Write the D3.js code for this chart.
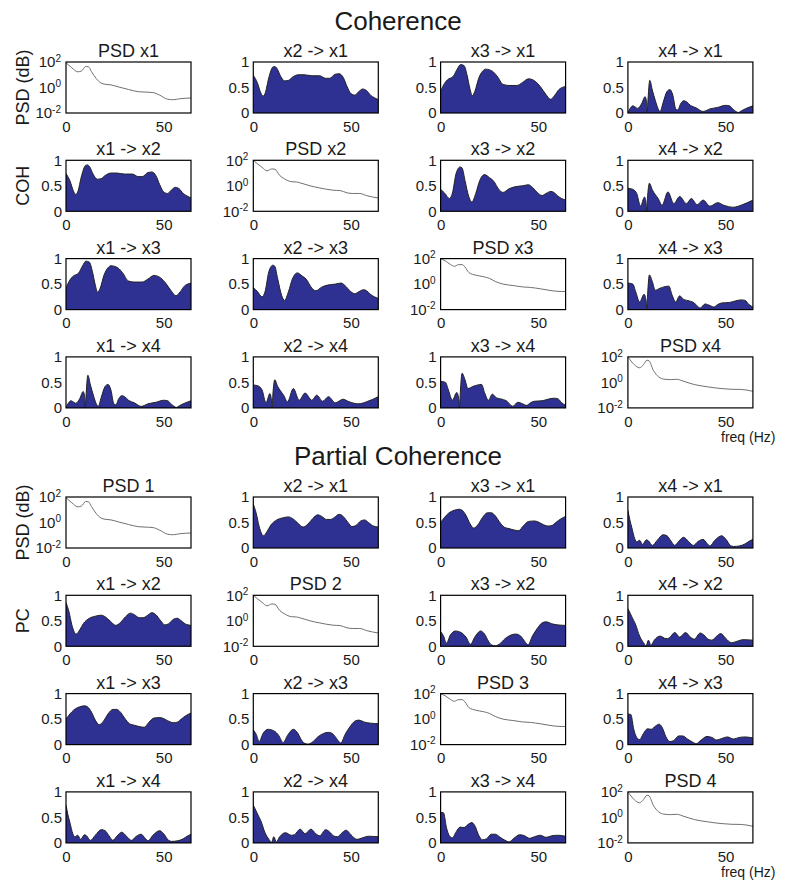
<!DOCTYPE html>
<html>
<head>
<meta charset="utf-8">
<script src="https://cdn.jsdelivr.net/npm/d3@7"></script>
<style>
  body { margin: 0; background: #fff; }
  text { font-family: "Liberation Sans", Arial, Helvetica, sans-serif; fill: #1a1a1a; }
</style>
</head>
<body>
<svg id="chart" width="788" height="881"></svg>
<script>
// ---- axis settings ----
const freqMax = 64;
const freqTicks = [0, 50];
const cohTicks = [0, 0.5, 1];
const psdTicks = [0.01, 1, 100];
const signals = ["x1", "x2", "x3", "x4"];

// ---- power spectra [freq (Hz), power] ----
const psd1 = [[0,90],[3,35],[6,17],[8,20],[10,44],[11.5,42],[13,18],[15.5,5],[18,2.2],[20,1.8],[23,1.6],[27,1.1],[32,0.7],[37,0.47],[40,0.44],[44.5,0.4],[48,0.25],[52,0.12],[55,0.11],[58,0.13],[64,0.15]];
const psd2 = [[0,100],[2,55],[4.5,28],[7,15],[9.5,21],[11,20],[13.5,6.5],[16,3.5],[19.5,2.1],[22,2.0],[24,1.7],[29,1.0],[34,0.68],[41,0.45],[44.5,0.42],[48,0.28],[51,0.25],[54.5,0.25],[58,0.17],[64,0.11]];
const psd3 = [[0,100],[2.5,65],[5,35],[7,25],[9,33],[11,34],[12.5,22],[14.5,8],[18,5],[22,3.8],[25,2.8],[28,1.6],[32,1.0],[37.5,0.76],[42,0.6],[46,0.55],[51,0.43],[56,0.32],[60,0.27],[64,0.26]];
const psd4 = [[0,100],[2,40],[4.5,17],[6,14],[8,25],[9.8,55],[10.8,50],[13,9],[15.8,2.7],[18.4,1.8],[21.8,1.65],[25,1.75],[28.7,1.2],[34,0.68],[40.8,0.45],[47.7,0.33],[52.8,0.29],[58,0.28],[64,0.2]];

// ---- coherence (symmetric) [freq (Hz), value] ----
const coh12 = [[0,0.74],[2,0.6],[4,0.38],[5,0.33],[6,0.38],[8,0.7],[10,0.9],[11,0.91],[12,0.88],[14,0.72],[16,0.63],[18,0.64],[20,0.7],[23,0.75],[26,0.75],[30,0.73],[34,0.73],[37,0.68],[39,0.68],[42,0.76],[44,0.77],[46,0.7],[48,0.52],[50,0.38],[52,0.35],[54,0.42],[56,0.47],[58,0.44],[60,0.35],[62,0.3],[64,0.26]];
const coh13 = [[0,0.42],[2,0.58],[3.5,0.65],[6.5,0.72],[8.5,0.86],[10.2,0.95],[12,0.93],[13.5,0.75],[15,0.48],[16.2,0.34],[17.5,0.42],[19.5,0.68],[21.5,0.82],[23,0.86],[26.5,0.82],[29,0.72],[32,0.56],[35,0.54],[39,0.54],[42,0.6],[45,0.67],[48.5,0.62],[51,0.52],[54,0.36],[56.3,0.27],[58.5,0.35],[60.6,0.46],[64,0.52]];
const coh14 = [[0,0.01],[1,0.08],[2.5,0.14],[4,0.11],[5,0.09],[7,0.18],[8.8,0.32],[9.6,0.2],[9.9,0.01],[10.2,0.2],[11.2,0.64],[12.5,0.45],[14,0.25],[15.5,0.08],[16.5,0.03],[18,0.2],[20,0.42],[21.5,0.46],[23,0.35],[24.5,0.08],[25.5,0.06],[27,0.18],[28.5,0.24],[30,0.22],[32,0.15],[35,0.1],[38.5,0.03],[42,0.08],[46,0.11],[50,0.15],[52,0.14],[54,0.07],[56.5,0.01],[58,0.04],[60,0.08],[64,0.14]];
const coh23 = [[0,0.43],[2,0.36],[4.5,0.25],[6,0.35],[8,0.75],[10,0.87],[11,0.85],[12.5,0.6],[14.5,0.28],[16,0.18],[18,0.35],[20,0.6],[22.5,0.72],[25,0.66],[27,0.6],[30,0.42],[32,0.37],[35,0.44],[38,0.48],[42,0.5],[45,0.52],[47,0.47],[50,0.35],[52,0.31],[54,0.35],[56.5,0.39],[58,0.37],[60,0.3],[62,0.25],[64,0.22]];
const coh24 = [[0,0.45],[2.5,0.43],[4.5,0.35],[6.5,0.1],[8.5,0.28],[9.3,0.15],[9.6,0.01],[10,0.25],[11,0.55],[12.5,0.42],[14,0.33],[15.5,0.25],[17.5,0.12],[20.5,0.38],[23.5,0.15],[26.5,0.29],[30,0.15],[32.5,0.25],[35.5,0.13],[38.5,0.22],[42,0.1],[46,0.17],[49,0.12],[54,0.08],[58,0.12],[64,0.22]];
const coh34 = [[0,0.52],[2.5,0.5],[4,0.35],[6,0.15],[8.3,0.3],[9.4,0.15],[9.7,0.01],[10.1,0.3],[11,0.68],[12.5,0.55],[14,0.38],[16.5,0.42],[19,0.45],[21,0.46],[22.5,0.3],[24.5,0.15],[26.5,0.27],[28.5,0.2],[31.5,0.17],[34,0.13],[36,0.05],[37,0.03],[39.5,0.11],[42,0.08],[44,0.05],[46,0.1],[48,0.13],[52,0.14],[55,0.17],[58,0.19],[60,0.18],[62,0.1],[64,0.05]];

// ---- partial coherence (symmetric) [freq (Hz), value] ----
const pc12 = [[0,0.86],[1.5,0.68],[3,0.42],[5.2,0.24],[7,0.32],[9,0.45],[12,0.55],[15,0.59],[18,0.61],[20,0.58],[22.5,0.5],[25.5,0.41],[28,0.47],[30.5,0.58],[33,0.65],[35,0.62],[37.5,0.56],[39.5,0.56],[41.5,0.6],[44,0.66],[46,0.62],[48.5,0.5],[50.5,0.42],[52.5,0.44],[55,0.53],[57,0.55],[59,0.5],[61,0.44],[64,0.41]];
const pc13 = [[0,0.5],[2,0.6],[4,0.68],[7,0.74],[9.5,0.76],[11,0.74],[13,0.64],[15,0.48],[17,0.39],[19,0.45],[21.5,0.6],[24,0.69],[26,0.69],[28,0.63],[30,0.52],[32.5,0.41],[35,0.38],[38,0.35],[40,0.34],[42.5,0.44],[45,0.52],[48,0.53],[50,0.51],[52,0.47],[55,0.43],[57,0.44],[59,0.5],[61.5,0.57],[64,0.62]];
const pc14 = [[0,0.74],[1,0.55],[2,0.4],[3.5,0.18],[4.5,0.12],[6,0.15],[7.5,0.07],[9.5,0.16],[10.5,0.14],[12.5,0.05],[15,0.15],[18,0.26],[20,0.24],[22,0.14],[24,0.05],[26,0.13],[28.5,0.21],[31,0.13],[33.5,0.05],[36,0.13],[38.5,0.17],[40.5,0.09],[42,0.04],[44.5,0.15],[48,0.24],[50,0.18],[52.5,0.05],[54,0.03],[57,0.04],[60,0.08],[62,0.13],[64,0.17]];
const pc23 = [[0,0.29],[1.5,0.2],[3,0.06],[5,0.22],[7.5,0.3],[10.5,0.27],[13,0.18],[15.3,0.04],[17.5,0.18],[20.5,0.3],[22.5,0.24],[24.5,0.1],[26,0.03],[28,0.01],[30,0.04],[33,0.15],[36,0.22],[38.5,0.24],[41,0.2],[43,0.1],[44.8,0.03],[47,0.2],[49.5,0.35],[52,0.46],[54,0.48],[57,0.44],[60,0.42],[64,0.41]];
const pc24 = [[0,0.74],[2,0.58],[4,0.42],[6,0.2],[8,0.07],[9.3,0.01],[10.5,0.12],[11.8,0.02],[13.5,0.12],[16.5,0.2],[19.5,0.15],[21,0.16],[24,0.27],[26.5,0.18],[29.5,0.27],[32,0.18],[34,0.14],[37,0.26],[39.5,0.2],[41,0.14],[43,0.12],[45.5,0.2],[47.5,0.25],[50,0.16],[53,0.07],[56,0.1],[59,0.13],[64,0.12]];
const pc34 = [[0,0.6],[1.5,0.59],[3,0.3],[4.5,0.14],[6,0.1],[8,0.22],[10,0.31],[12,0.3],[14,0.36],[16,0.4],[17.5,0.34],[19.5,0.15],[21.5,0.06],[23.5,0.08],[26,0.17],[28,0.17],[30.5,0.11],[33,0.05],[35,0.02],[37.5,0.09],[40.5,0.16],[43,0.14],[45.5,0.09],[48,0.12],[51,0.15],[54,0.11],[57,0.14],[60,0.15],[64,0.13]];

const spectra = [psd1, psd2, psd3, psd4];
const cohPairs = { "12": coh12, "13": coh13, "14": coh14, "23": coh23, "24": coh24, "34": coh34 };
const pcPairs  = { "12": pc12,  "13": pc13,  "14": pc14,  "23": pc23,  "24": pc24,  "34": pc34 };

// ---- layout ----
const panelW = 125, panelH = 51;
const colLeft = 66, colStep = 187.3;
const rowTop = 62, rowStep = 98.3;
const sectionStep = 435;
const fillColor = "#2e3192";

const svg = d3.select("#chart");

svg.append("defs").append("clipPath").attr("id", "panel-clip")
  .append("rect").attr("width", panelW).attr("height", panelH);

const x = d3.scaleLinear().domain([0, freqMax]).range([0, panelW]);
const yCoh = d3.scaleLinear().domain([0, 1]).range([panelH, 0]);
const yPsd = d3.scaleLog().domain([0.01, 100]).range([panelH, 0]);

const cohArea = d3.area().x(d => x(d[0])).y0(panelH).y1(d => yCoh(d[1])).curve(d3.curveMonotoneX);
const cohLine = d3.line().x(d => x(d[0])).y(d => yCoh(d[1])).curve(d3.curveMonotoneX);
const psdLine = d3.line().x(d => x(d[0])).y(d => yPsd(d[1])).curve(d3.curveMonotoneX);

function drawXAxis(g) {
  const ax = g.append("g").attr("transform", `translate(0,${panelH})`)
    .call(d3.axisBottom(x).tickValues(freqTicks).tickSize(0).tickPadding(8).tickFormat(d3.format("d")));
  ax.select(".domain").remove();
  ax.selectAll("text").attr("font-size", 15);
}

function drawCohYAxis(g) {
  const ax = g.append("g")
    .call(d3.axisLeft(yCoh).tickValues(cohTicks).tickSize(0).tickPadding(4).tickFormat(d => d === 0.5 ? "0.5" : d3.format("d")(d)));
  ax.select(".domain").remove();
  ax.selectAll("text").attr("font-size", 15);
}

function drawPsdYAxis(g) {
  const ax = g.append("g")
    .call(d3.axisLeft(yPsd).tickValues(psdTicks).tickSize(0).tickPadding(5));
  ax.select(".domain").remove();
  ax.selectAll("text").attr("font-size", 15).each(function(d) {
    const t = d3.select(this);
    t.text("10");
    t.append("tspan").attr("dy", "-0.55em").attr("font-size", 10).text(Math.round(Math.log10(d)));
  });
}

function drawSection(section) {
  const offsetY = section.index * sectionStep;

  svg.append("text")
    .attr("x", 398).attr("y", offsetY + 30)
    .attr("text-anchor", "middle").attr("font-size", 26)
    .text(section.title);

  for (let i = 0; i < 4; i++) {
    for (let j = 0; j < 4; j++) {
      const gx = colLeft + j * colStep;
      const gy = offsetY + rowTop + i * rowStep;
      const g = svg.append("g").attr("transform", `translate(${gx},${gy})`);
      const plot = g.append("g").attr("clip-path", "url(#panel-clip)");
      let title;
      if (i === j) {
        title = section.psdTitle(i);
        plot.append("path").datum(spectra[i])
          .attr("d", psdLine).attr("fill", "none")
          .attr("stroke", "#707070").attr("stroke-width", 1);
        drawPsdYAxis(g);
      } else {
        title = `${signals[j]} -> ${signals[i]}`;
        const key = `${Math.min(i, j) + 1}${Math.max(i, j) + 1}`;
        const series = section.pairs[key];
        plot.append("path").datum(series).attr("d", cohArea).attr("fill", fillColor);
        plot.append("path").datum(series).attr("d", cohLine)
          .attr("fill", "none").attr("stroke", "#222").attr("stroke-width", 1);
        drawCohYAxis(g);
      }
      g.append("rect").attr("width", panelW).attr("height", panelH)
        .attr("fill", "none").attr("stroke", "#000").attr("stroke-width", 1.2);
      drawXAxis(g);
      g.append("text").attr("x", panelW / 2).attr("y", -5)
        .attr("text-anchor", "middle").attr("font-size", 18).text(title);
    }
  }

  // row labels
  const labels = [["PSD (dB)", 0], [section.yLabel, 1]];
  labels.forEach(([txt, r]) => {
    const cy = offsetY + rowTop + r * rowStep + panelH / 2;
    svg.append("text")
      .attr("transform", `translate(29,${cy}) rotate(-90)`)
      .attr("text-anchor", "middle").attr("font-size", 18).text(txt);
  });

  svg.append("text").attr("x", 721).attr("y", offsetY + 442)
    .attr("font-size", 14).text("freq (Hz)");
}

drawSection({ index: 0, title: "Coherence", pairs: cohPairs, psdTitle: i => `PSD ${signals[i]}`, yLabel: "COH" });
drawSection({ index: 1, title: "Partial Coherence", pairs: pcPairs, psdTitle: i => `PSD ${i + 1}`, yLabel: "PC" });
</script>
</body>
</html>
